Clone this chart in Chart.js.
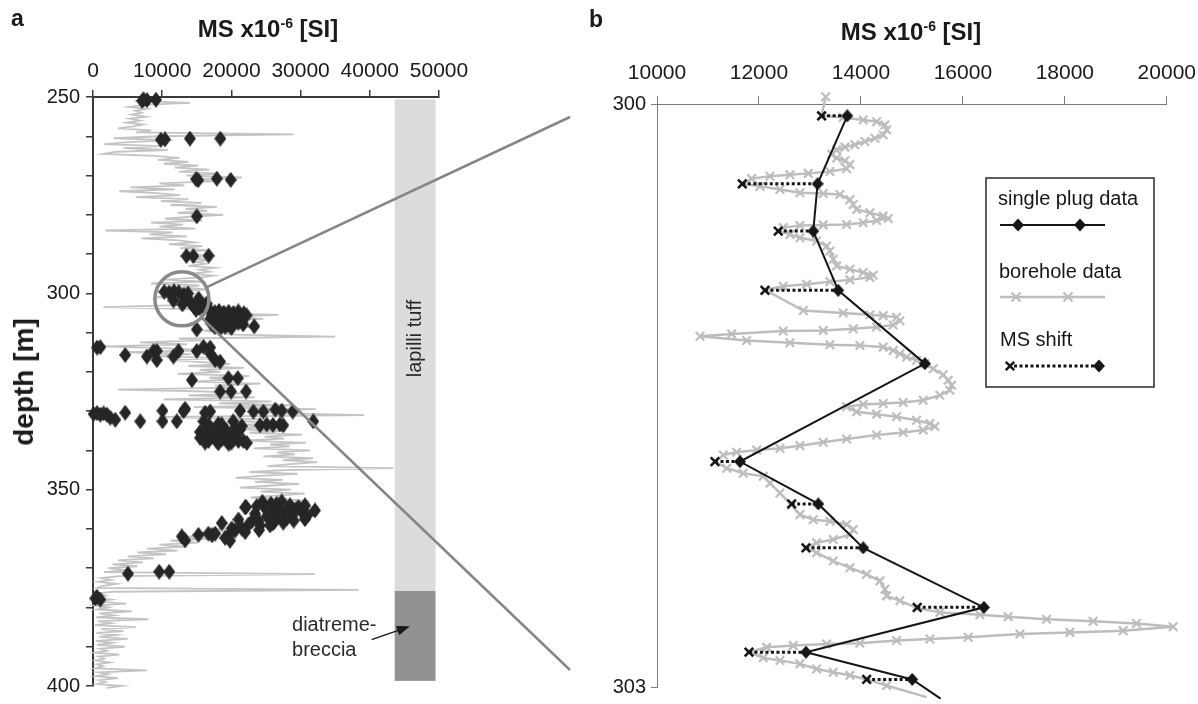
<!DOCTYPE html>
<html>
<head>
<meta charset="utf-8">
<title>Magnetic susceptibility profile</title>
<script src="https://cdn.jsdelivr.net/npm/chart.js@4.4.1/dist/chart.umd.min.js"></script>
<style>
  html, body { margin: 0; padding: 0; background: #ffffff; }
  body { position: relative; width: 1198px; height: 704px; overflow: hidden;
         font-family: "Liberation Sans", Arial, Helvetica, sans-serif; color: #1a1a1a; }
  canvas { position: absolute; top: 0; }
  #panelA { left: 0; }
  #panelB { left: 590px; }
  .txt { position: absolute; white-space: nowrap; line-height: 1; }
  .panel-letter { font-weight: bold; font-size: 23px; }
  .axis-title { font-weight: bold; font-size: 24px; transform: translate(-50%, -50%); }
  .axis-title sup { font-size: 14px; vertical-align: 0; position: relative; top: -9px; }
  .depth-title { font-weight: bold; font-size: 28px; transform: translate(-50%, -50%) rotate(-90deg); }
</style>
</head>
<body>
<canvas id="panelA" width="590" height="704"></canvas>
<canvas id="panelB" width="616" height="704"></canvas>
<div class="txt panel-letter" style="left:11px;top:7px;">a</div>
<div class="txt panel-letter" style="left:589px;top:8px;">b</div>
<div class="txt axis-title" style="left:268px;top:29px;">MS x10<sup>-6</sup> [SI]</div>
<div class="txt axis-title" style="left:911px;top:32px;">MS x10<sup>-6</sup> [SI]</div>
<div class="txt depth-title" style="left:24px;top:382px;">depth [m]</div>
<script>
// ---------- Panel a: whole borehole section ----------
// Borehole log, sampled every 0.5 m from 250 m downwards (MS x10^-6 SI)
const BORE_A_TOP = 250;
const BORE_A_STEP = 0.5;
const BORE_A_MS = [
  6800,8200,6000,14000,7400,5200,7800,6100,7000,5600,7600,5300,6800,4900,7300,5800,3600,8400,6200,29000,
  9500,3000,11500,5200,1600,9800,4400,10800,3200,1500,8900,12500,9400,13800,10200,15200,11800,16800,12400,18200,
  13500,21500,14800,17400,9600,13200,5400,11800,3800,9200,12600,6200,13800,9800,15600,11200,17900,13400,16500,12200,
  18800,14200,10400,15800,8400,13000,9600,14800,1800,11500,8200,13600,7000,12400,14600,11000,15800,12600,16400,13800,
  14600,16800,13200,17200,14800,16200,13800,17600,15400,16800,14200,17400,15200,10400,16200,8400,15400,12800,16600,11600,
  14200,12600,9200,14800,11400,16400,12800,1500,14600,17800,15600,26800,18400,24600,16800,21200,17400,22800,19400,16200,
  17800,20600,35000,12400,15600,6800,13600,1200,10800,16800,4400,14200,8600,18600,11200,15800,19800,13800,21800,15400,
  18400,12200,22600,16800,19400,14400,24200,17600,20200,3600,16400,21600,13800,23400,10200,25800,18200,28800,14600,32200,
  22400,26800,39200,9600,24200,19600,27400,21200,25600,18800,27800,22600,30200,24800,27600,21400,30800,25600,28400,23200,
  31400,26600,29200,24600,31800,27400,32400,28600,25200,43400,27800,22600,29600,24200,20600,27400,23400,29800,25400,21200,
  28600,24200,30600,26400,22800,28400,31200,26800,29400,32600,27600,30800,28200,32200,26400,29800,24800,22400,19600,23000,
  17400,20600,14800,18200,12800,16400,11200,15200,9600,13400,7800,12200,6400,10600,5000,8800,3600,7200,2800,6400,
  2200,4800,1600,32000,3800,1200,2600,800,3400,1400,600,38400,2800,500,1800,300,2600,700,4800,400,
  2200,600,5600,900,3000,400,8000,700,2600,300,6200,1200,4400,500,3400,900,5000,400,2800,600,
  4600,1000,2000,300,3800,800,1600,400,2400,600,1400,300,7800,800,2200,500,3600,900,1800,600,
  4200,2000
];

// Single plug measurements over the whole section
const PLUG_A_MS = [
  7300,7800,7100,9100,
  9800,10400,14000,18400,
  14900,15200,17900,19900,
  15000,
  13500,14500,16700,
  10300,11000,11700,12400,
  13732,13150,13065,13555,15255,11627,13163,14045,16412,12922,15006,
  14600,15400,15900,14900,
  17000,17600,18200,18900,19600,20300,21000,21800,
  17200,18000,18700,19300,20000,20800,22200,
  16900,17700,18500,19200,19900,20600,21400,
  17100,17900,18700,19500,20200,21000,21700,
  17600,18400,19100,20000,23300,15000,
  580,1050,4660,7790,8750,9230,9230,11630,12350,15000,15960,16930,16930,17650,18370,
  14290,19570,20920,18370,19960,22120,
  90,580,1050,1530,2020,2500,3220,4660,6830,10040,10040,12120,13080,13320,16200,15960,16930,16690,
  18130,18610,20260,20530,21260,21500,23180,24620,24140,25100,26000,27000,27500,26350,27270,28860,31830,
  15480,16000,16440,16930,17400,17890,18370,18610,19330,19810,20290,21010,21740,22220,15480,16690,17890,
  19330,20770,21260,16200,18100,19600,17100,20000,
  12840,13320,15240,16680,17200,17650,18610,19090,19570,20050,20530,21020,21500,21980,22460,22940,23420,
  23660,23900,24140,25100,25580,25720,26060,26550,27030,27270,27750,28000,28470,28720,29190,29670,30150,
  30630,30630,32080,24480,22120,26300,27500,29000,31000,25000,26800,28200,24000,22000,19800,26000,
  5050,9570,11010,
  330,580,1050
];
const PLUG_A_DEPTH = [
  250.6,250.8,251.0,250.7,
  260.9,260.8,260.6,260.6,
  270.9,271.2,270.8,271.1,
  280.4,
  290.5,290.5,290.4,
  299.6,299.8,299.5,299.7,
  300.061,300.411,300.654,300.959,301.336,301.840,302.058,302.284,302.590,302.821,302.961,
  303.4,303.8,303.3,304.2,
  304.6,304.8,304.5,304.9,304.7,305.0,304.6,305.1,
  305.6,305.9,305.5,306.0,305.7,305.9,305.6,
  306.6,306.8,306.5,306.9,306.6,307.0,306.7,
  307.7,307.9,307.6,308.0,307.8,307.5,307.9,
  308.6,308.9,308.5,308.8,308.4,309.2,
  313.8,313.7,315.7,316.1,314.7,314.7,317.0,316.1,314.7,314.7,313.6,313.8,315.3,317.0,317.4,
  322.1,321.6,321.6,325.0,325.0,325.0,
  330.7,330.5,330.9,330.6,330.9,331.7,332.2,330.4,332.6,329.9,332.6,332.6,330.0,329.4,330.4,332.6,330.1,333.4,
  333.2,333.4,332.6,334.2,329.9,333.8,330.1,330.1,333.6,333.4,333.5,333.4,333.6,329.6,329.9,330.1,332.6,
  335.3,336.4,335.1,336.8,335.3,336.4,334.7,337.2,335.1,336.4,337.2,337.6,337.6,338.1,336.8,337.6,337.6,
  337.6,335.8,334.7,338.0,338.2,338.3,334.8,338.0,
  361.9,362.9,361.5,361.2,361.6,361.2,358.5,362.3,361.8,359.9,360.4,357.6,359.9,354.5,358.9,358.1,356.1,
  354.2,357.9,359.1,356.8,359.1,353.6,355.6,353.6,354.9,353.0,356.1,357.3,354.0,356.8,355.3,354.4,355.6,
  354.0,357.5,355.3,353.1,354.4,357.9,358.4,357.9,356.5,355.0,356.2,355.0,360.3,360.8,363.0,358.6,
  371.4,370.9,370.9,
  377.7,377.3,378.0
];

// Lithological column
const UNIT_NAMES = ['lapilli tuff', 'diatreme-breccia'];
const UNIT_TOP = [250.6, 375.8];
const UNIT_BASE = [375.8, 398.7];
const COLUMN_MS = [43600, 49500];

// Depth window enlarged in panel b
const ZOOM_CENTER = { ms: 12840, depth: 301.4 };

// ---------- Panel b: 300-303 m detail ----------
const PLUG_B_DEPTH = [300.061,300.411,300.654,300.959,301.336,301.840,302.058,302.284,302.590,302.821,302.961,303.060];
const PLUG_B_MS    = [13732,13150,13065,13555,15255,11627,13163,14045,16412,12922,15006,15563];
// Borehole value at the depth of each plug (null where no shift is drawn)
const SHIFT_B_MS   = [13229,11673,12378,12118,null,11137,12641,12922,15104,11804,14112,null];

const BORE_B_DEPTH = [
  299.963,300.060,300.070,300.082,300.091,300.108,300.133,300.159,300.176,300.193,
  300.210,300.222,300.236,300.258,300.278,300.292,300.312,300.333,300.347,300.357,
  300.364,300.372,300.384,300.411,300.423,300.440,300.457,300.461,300.466,300.492,
  300.517,300.543,300.560,300.577,300.589,300.599,300.611,300.620,300.622,300.625,
  300.636,300.654,300.671,300.688,300.705,300.731,300.756,300.799,300.833,300.850,
  300.867,300.881,300.892,300.905,300.915,300.927,300.938,300.956,301.063,301.075,
  301.085,301.089,301.097,301.115,301.137,301.148,301.157,301.166,301.168,301.183,
  301.195,301.217,301.229,301.239,301.243,301.251,301.268,301.285,301.302,301.319,
  301.336,301.362,301.393,301.422,301.447,301.473,301.499,301.524,301.536,301.541,
  301.546,301.558,301.584,301.596,301.609,301.627,301.644,301.660,301.678,301.690,
  301.703,301.724,301.741,301.758,301.772,301.780,301.792,301.806,301.840,301.874,
  301.900,301.916,301.951,302.002,302.065,302.113,302.139,302.147,302.164,302.190,
  302.215,302.241,302.258,302.284,302.309,302.352,302.386,302.420,302.454,302.497,
  302.531,302.556,302.594,302.616,302.628,302.638,302.651,302.662,302.673,302.690,
  302.710,302.719,302.727,302.744,302.753,302.761,302.775,302.779,302.787,302.796,
  302.821,302.850,302.864,302.881,302.907,302.924,302.940,302.961,302.992,303.052
];
const BORE_B_MS = [
  13308,13229,13653,14045,14308,14471,14504,14437,14275,14078,
  13882,13686,13524,13425,13524,13686,13784,13720,13392,12967,
  12608,12216,11857,11673,12020,12412,12804,13261,13588,13784,
  13849,13916,14177,14437,14535,14308,14045,13720,13261,12804,
  12476,12378,12608,12804,13131,13327,13392,13457,13524,13784,
  14045,14241,14177,13784,13392,12935,12476,12118,12869,13653,
  14177,14437,14700,14765,14633,14308,13849,13261,12476,11465,
  10843,11759,12608,13392,13980,14437,14633,14765,14896,15092,
  15255,15418,15614,15712,15779,15745,15549,15222,14829,14437,
  14045,13720,13916,14308,14700,15092,15353,15451,15222,14829,
  14308,13720,13261,12804,12412,11955,11563,11300,11137,11367,
  11692,12084,12216,12412,12641,12804,13065,13392,13720,13849,
  13784,13457,13131,12922,13131,13457,13784,14112,14373,14471,
  14504,14765,15104,15549,16333,16888,17641,18555,19406,20124,
  19143,18098,17118,16104,15353,14700,13980,13327,12673,12151,
  11804,12084,12412,12804,13131,13457,13784,14112,14504,15288
];

const Y_TICKS_B = [300, 303];
const LEGEND_LABELS = ['single plug data', 'borehole data', 'MS shift'];

// ---------- shared styling ----------
const FONT_FAMILY = "'Liberation Sans', Arial, Helvetica, sans-serif";
Chart.defaults.font.family = FONT_FAMILY;
Chart.defaults.font.size = 20;
Chart.defaults.color = '#1a1a1a';

const GREY_LOG = '#c4c4c4';
const GREY_LOG_B = '#bdbdbd';
const INK = '#161616';

function makeDiamond(w, h, color) {
  const c = document.createElement('canvas');
  c.width = w; c.height = h;
  const g = c.getContext('2d');
  g.fillStyle = color;
  g.beginPath();
  g.moveTo(w / 2, 0); g.lineTo(w, h / 2); g.lineTo(w / 2, h); g.lineTo(0, h / 2);
  g.closePath(); g.fill();
  return c;
}
const diamondA = makeDiamond(12, 16, '#262626');
const diamondB = makeDiamond(12, 13, INK);

function drawDiamond(ctx, x, y, w, h, color) {
  ctx.fillStyle = color;
  ctx.beginPath();
  ctx.moveTo(x, y - h / 2); ctx.lineTo(x + w / 2, y); ctx.lineTo(x, y + h / 2); ctx.lineTo(x - w / 2, y);
  ctx.closePath(); ctx.fill();
}
function drawCross(ctx, x, y, half, color, width) {
  ctx.strokeStyle = color; ctx.lineWidth = width; ctx.setLineDash([]);
  ctx.beginPath();
  ctx.moveTo(x - half, y - half); ctx.lineTo(x + half, y + half);
  ctx.moveTo(x + half, y - half); ctx.lineTo(x - half, y + half);
  ctx.stroke();
}

// ---------- panel a plugins ----------
const lithologyPlugin = {
  id: 'lithology',
  beforeDatasetsDraw(chart) {
    const { ctx, scales: { x, y } } = chart;
    const colours = ['#dcdcdc', '#929292'];
    ctx.save();
    const x0 = x.getPixelForValue(COLUMN_MS[0]);
    const x1 = x.getPixelForValue(COLUMN_MS[1]);
    UNIT_NAMES.forEach((name, i) => {
      const y0 = y.getPixelForValue(UNIT_TOP[i]);
      const y1 = y.getPixelForValue(UNIT_BASE[i]);
      ctx.fillStyle = colours[i];
      ctx.fillRect(x0, y0, x1 - x0, y1 - y0);
    });
    ctx.restore();
  },
  afterDraw(chart) {
    const { ctx, scales: { x, y } } = chart;
    ctx.save();
    // unit labels
    ctx.fillStyle = '#2a2a2a';
    ctx.font = '20px ' + FONT_FAMILY;
    const xm = (x.getPixelForValue(COLUMN_MS[0]) + x.getPixelForValue(COLUMN_MS[1])) / 2;
    ctx.save();
    ctx.translate(xm, y.getPixelForValue(311.5));
    ctx.rotate(-Math.PI / 2);
    ctx.textAlign = 'center'; ctx.textBaseline = 'middle';
    ctx.fillText(UNIT_NAMES[0], 0, 0);
    ctx.restore();
    ctx.textAlign = 'left'; ctx.textBaseline = 'alphabetic';
    const lx = x.getPixelForValue(28760);
    ctx.fillText('diatreme-', lx, y.getPixelForValue(386.1));
    ctx.fillText('breccia', lx, y.getPixelForValue(392.4));
    // arrow to the breccia unit
    const ax0 = x.getPixelForValue(40260), ay0 = y.getPixelForValue(388.2);
    const ax1 = x.getPixelForValue(45790), ay1 = y.getPixelForValue(384.8);
    const ang = Math.atan2(ay1 - ay0, ax1 - ax0);
    ctx.strokeStyle = '#1a1a1a'; ctx.lineWidth = 1.5;
    ctx.beginPath(); ctx.moveTo(ax0, ay0);
    ctx.lineTo(ax1 - 10 * Math.cos(ang), ay1 - 10 * Math.sin(ang)); ctx.stroke();
    ctx.fillStyle = '#1a1a1a';
    ctx.beginPath();
    ctx.moveTo(ax1, ay1);
    ctx.lineTo(ax1 - 13 * Math.cos(ang) + 5 * Math.sin(ang), ay1 - 13 * Math.sin(ang) - 5 * Math.cos(ang));
    ctx.lineTo(ax1 - 13 * Math.cos(ang) - 5 * Math.sin(ang), ay1 - 13 * Math.sin(ang) + 5 * Math.cos(ang));
    ctx.closePath(); ctx.fill();
    // circle marking the enlarged window and the two guide lines towards panel b
    const cx = x.getPixelForValue(ZOOM_CENTER.ms), cy = y.getPixelForValue(ZOOM_CENTER.depth);
    const r = 27;
    ctx.strokeStyle = '#8a8a8a'; ctx.lineWidth = 3.5;
    ctx.beginPath(); ctx.arc(cx, cy, r, 0, Math.PI * 2); ctx.stroke();
    const ends = [[chart.width - 20, 117], [chart.width - 20, 670]];
    ctx.strokeStyle = '#868686'; ctx.lineWidth = 2.5;
    ends.forEach(([ex, ey]) => {
      const dx = ex - cx, dy = ey - cy, len = Math.hypot(dx, dy);
      ctx.beginPath();
      ctx.moveTo(cx + r * dx / len, cy + r * dy / len);
      ctx.lineTo(ex, ey);
      ctx.stroke();
    });
    ctx.restore();
  }
};

const boreA = BORE_A_MS.map((v, i) => ({ x: v, y: BORE_A_TOP + i * BORE_A_STEP }));
const plugA = PLUG_A_MS.map((v, i) => ({ x: v, y: PLUG_A_DEPTH[i] }));

new Chart(document.getElementById('panelA'), {
  type: 'scatter',
  data: {
    datasets: [
      { label: 'single plug data', data: plugA, pointStyle: diamondA, pointRadius: 6,
        showLine: false, clip: false, order: 0 },
      { label: 'borehole data', data: boreA, showLine: true, borderColor: GREY_LOG,
        borderWidth: 1.8, pointRadius: 0, clip: 6, order: 1 }
    ]
  },
  options: {
    responsive: false, animation: false, devicePixelRatio: 1, events: [],
    layout: { padding: { left: 0, top: 0, right: 151, bottom: 14 } },
    plugins: { legend: { display: false }, tooltip: { enabled: false } },
    scales: {
      x: {
        type: 'linear', position: 'top', min: 0, max: 50000,
        ticks: { stepSize: 10000, padding: 6, maxRotation: 0, autoSkip: false,
                 font: { size: 21 }, callback: v => String(v) },
        grid: { drawOnChartArea: false, tickLength: 7, color: '#3a3a3a', lineWidth: 1.5 },
        border: { color: '#3a3a3a', width: 2 },
        afterFit(scale) { scale.height = 97; }
      },
      y: {
        type: 'linear', reverse: true, min: 250, max: 400,
        ticks: { stepSize: 10, padding: 6, autoSkip: false,
                 callback: v => (v % 50 === 0 ? String(v) : '') },
        grid: { drawOnChartArea: false, tickLength: 7, color: '#3a3a3a', lineWidth: 1.5 },
        border: { color: '#3a3a3a', width: 2 },
        afterFit(scale) { scale.width = 93; }
      }
    }
  },
  plugins: [lithologyPlugin]
});

// ---------- panel b ----------
const legendPlugin = {
  id: 'boxLegend',
  afterDraw(chart) {
    const ctx = chart.ctx;
    const bx = 396, by = 178, bw = 168, bh = 209;
    ctx.save();
    ctx.fillStyle = '#ffffff';
    ctx.fillRect(bx, by, bw, bh);
    ctx.strokeStyle = '#2a2a2a'; ctx.lineWidth = 1.5;
    ctx.strokeRect(bx, by, bw, bh);
    ctx.font = '20px ' + FONT_FAMILY;
    ctx.fillStyle = INK; ctx.textAlign = 'left'; ctx.textBaseline = 'middle';
    ctx.fillText(LEGEND_LABELS[0], 408, 199);
    ctx.fillText(LEGEND_LABELS[1], 409, 272);
    ctx.fillText(LEGEND_LABELS[2], 410, 340);
    // single plug data
    ctx.strokeStyle = INK; ctx.lineWidth = 2;
    ctx.beginPath(); ctx.moveTo(410, 225); ctx.lineTo(515, 225); ctx.stroke();
    drawDiamond(ctx, 428, 225, 12, 13, INK);
    drawDiamond(ctx, 490, 225, 12, 13, INK);
    // borehole data
    ctx.strokeStyle = GREY_LOG_B; ctx.lineWidth = 2.5;
    ctx.beginPath(); ctx.moveTo(410, 297); ctx.lineTo(515, 297); ctx.stroke();
    drawCross(ctx, 426, 297, 4.5, GREY_LOG_B, 2.2);
    drawCross(ctx, 478, 297, 4.5, GREY_LOG_B, 2.2);
    // MS shift
    ctx.strokeStyle = INK; ctx.lineWidth = 3; ctx.setLineDash([3, 2.5]);
    ctx.beginPath(); ctx.moveTo(424, 366); ctx.lineTo(505, 366); ctx.stroke();
    ctx.setLineDash([]);
    drawCross(ctx, 420, 366, 4.2, INK, 2.5);
    drawDiamond(ctx, 509, 366, 12, 13, INK);
    ctx.restore();
  }
};

const boreB = BORE_B_MS.map((v, i) => ({ x: v, y: BORE_B_DEPTH[i] }));
const plugB = PLUG_B_MS.map((v, i) => ({ x: v, y: PLUG_B_DEPTH[i] }));
const shiftMarks = [];
const shiftSets = [];
SHIFT_B_MS.forEach((v, i) => {
  if (v === null) return;
  shiftMarks.push({ x: v, y: PLUG_B_DEPTH[i] });
  shiftSets.push({
    label: 'MS shift', data: [{ x: v, y: PLUG_B_DEPTH[i] }, { x: PLUG_B_MS[i], y: PLUG_B_DEPTH[i] }],
    showLine: true, borderColor: INK, borderWidth: 3, borderDash: [3, 2.5], pointRadius: 0,
    clip: false, order: 2
  });
});

new Chart(document.getElementById('panelB'), {
  type: 'scatter',
  data: {
    datasets: [
      { label: 'single plug data', data: plugB, showLine: true, borderColor: INK, borderWidth: 2,
        pointStyle: diamondB, pointRadius: 6, clip: false, order: 0 },
      { label: 'MS shift', data: shiftMarks, showLine: false, pointStyle: 'crossRot', pointRadius: 6,
        pointBorderColor: INK, pointBorderWidth: 2.5, clip: false, order: 1 },
      ...shiftSets,
      { label: 'borehole data', data: boreB, showLine: true, borderColor: GREY_LOG_B, borderWidth: 2.5,
        pointStyle: 'crossRot', pointRadius: 6, pointBorderColor: GREY_LOG_B, pointBorderWidth: 2.2,
        clip: false, order: 3 }
    ]
  },
  options: {
    responsive: false, animation: false, devicePixelRatio: 1, events: [],
    layout: { padding: { left: 0, top: 0, right: 39, bottom: 14 } },
    plugins: { legend: { display: false }, tooltip: { enabled: false } },
    scales: {
      x: {
        type: 'linear', position: 'top', min: 10000, max: 20000,
        ticks: { stepSize: 2000, padding: 10, maxRotation: 0, autoSkip: false,
                 font: { size: 21 }, callback: v => String(v) },
        grid: { drawOnChartArea: false, tickLength: 8, color: '#7a7a7a', lineWidth: 1 },
        border: { color: '#7a7a7a', width: 1 },
        afterFit(scale) { scale.height = 104; }
      },
      y: {
        type: 'linear', reverse: true, min: 300, max: 303,
        afterBuildTicks(scale) { scale.ticks = Y_TICKS_B.map(v => ({ value: v })); },
        ticks: { padding: 5, autoSkip: false, callback: v => String(v) },
        grid: { drawOnChartArea: false, tickLength: 6, color: '#7a7a7a', lineWidth: 1 },
        border: { color: '#7a7a7a', width: 1 },
        afterFit(scale) { scale.width = 67; }
      }
    }
  },
  plugins: [legendPlugin]
});
</script>
</body>
</html>
